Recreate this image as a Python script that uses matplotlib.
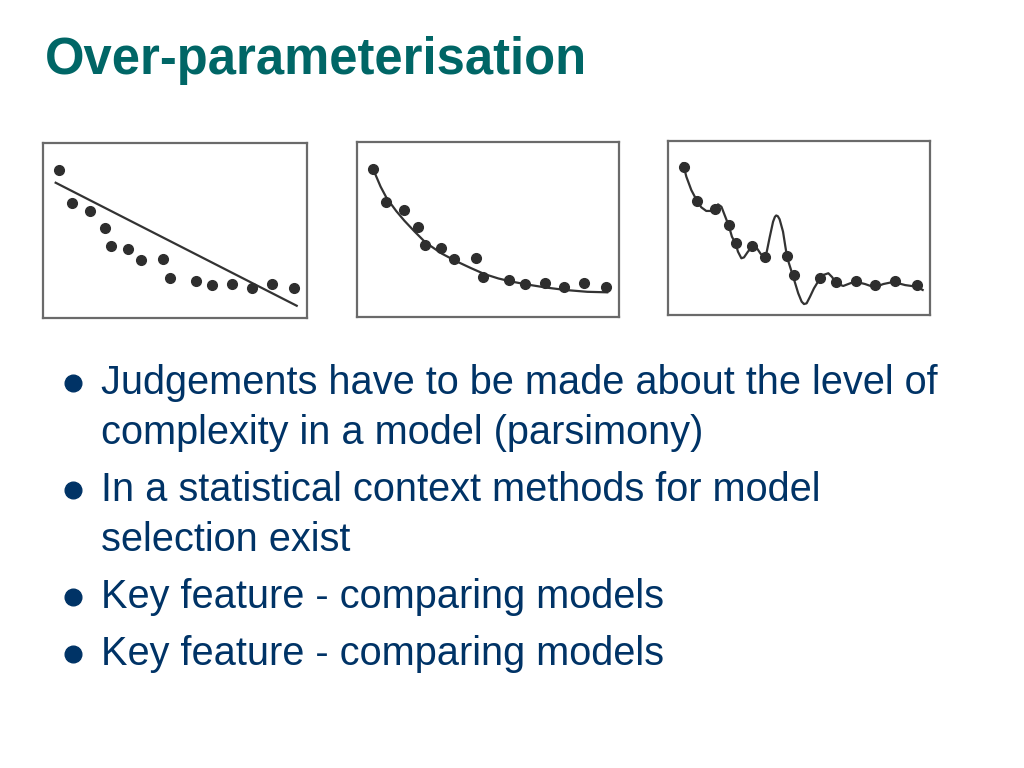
import matplotlib
matplotlib.use("Agg")
import matplotlib.pyplot as plt

# observed data (same points in all three panels)
x_pts = [0.62, 1.11, 1.78, 2.34, 2.58, 3.22, 3.71, 4.56, 4.81, 5.80, 6.42, 7.16, 7.91, 8.66, 9.52]
y_pts = [8.48, 6.58, 6.11, 5.17, 4.14, 3.96, 3.34, 3.38, 2.30, 2.11, 1.88, 1.94, 1.71, 1.94, 1.71]

# panel 1: straight line model
x_line = [0.48, 9.61]
y_line = [7.73, 0.70]

# panel 2: smooth curve model
x_curve = [0.63, 0.90, 1.13, 1.50, 1.81, 2.20, 2.62, 3.24, 3.77, 4.34, 4.87,
           5.40, 5.88, 6.48, 7.23, 7.98, 8.79, 9.55]
y_curve = [8.40, 7.45, 6.80, 6.05, 5.50, 4.88, 4.25, 3.62, 3.20, 2.80, 2.45,
           2.20, 2.03, 1.86, 1.68, 1.54, 1.44, 1.41]

# panel 3: over-fitted wiggly model
x_wig = [0.57, 0.70, 0.89, 1.11, 1.27, 1.46, 1.65, 1.78, 1.91, 2.04, 2.16, 2.32,
         2.44, 2.58, 2.67, 2.80, 2.90, 3.05, 3.24, 3.37, 3.54, 3.69, 3.77, 3.88,
         4.01, 4.08, 4.13, 4.19, 4.26, 4.39, 4.48, 4.55, 4.77, 4.97, 5.10, 5.19,
         5.29, 5.42, 5.57, 5.78, 5.93, 6.12, 6.27, 6.40, 6.69, 6.95, 7.14, 7.52,
         7.88, 8.22, 8.60, 9.05, 9.47, 9.72]
y_wig = [8.72, 7.95, 7.18, 6.55, 6.19, 5.98, 5.98, 6.07, 6.36, 6.22, 5.75, 5.13,
         4.50, 4.12, 3.64, 3.26, 3.31, 3.64, 3.97, 3.89, 3.51, 3.31, 3.64, 4.46,
         5.36, 5.64, 5.72, 5.68, 5.50, 4.79, 3.93, 3.29, 2.24, 1.25, 0.77, 0.63,
         0.67, 1.05, 1.53, 2.05, 2.30, 2.40, 2.17, 1.82, 1.67, 1.82, 1.92, 1.78,
         1.59, 1.78, 1.90, 1.72, 1.63, 1.44]

title = "Over-parameterisation"
bullets = [
    "Judgements have to be made about the level of\ncomplexity in a model (parsimony)",
    "In a statistical context methods for model\nselection exist",
    "Key feature - comparing models",
    "Key feature - comparing models",
]

plt.rcParams['font.family'] = ['Liberation Sans', 'DejaVu Sans']

fig = plt.figure(figsize=(10.24, 7.68), dpi=100)
W, H = 1024, 768

# panel boxes in pixels: left, top, right, bottom
boxes = [(43, 143, 307, 318), (357, 142, 619, 317), (668, 141, 930, 315)]
models = [(x_line, y_line), (x_curve, y_curve), (x_wig, y_wig)]

for (l, t, r, b), (mx, my) in zip(boxes, models):
    ax = fig.add_axes([l / W, 1 - b / H, (r - l) / W, (b - t) / H])
    ax.plot(mx, my, color='#333333', lw=1.6, zorder=2)
    ax.plot(x_pts, y_pts, 'o', color='#2e2e2e', ms=7, zorder=3)
    ax.set_xlim(0, 10)
    ax.set_ylim(0, 10)
    ax.set_xticks([])
    ax.set_yticks([])
    for s in ax.spines.values():
        s.set_color('#6a6a6a')
        s.set_linewidth(1.6)

# text layer in pixel coordinates
tx = fig.add_axes([0, 0, 1, 1])
tx.set_xlim(0, W)
tx.set_ylim(H, 0)
tx.axis('off')
tx.patch.set_alpha(0)

tx.text(45, 74, title, fontsize=36.5, fontweight='bold', color='#006666',
        va='baseline', ha='left')

baseline = 394
for item in bullets:
    lines = item.split("\n")
    tx.plot([73], [baseline - 11], 'o', color='#003366', ms=12)
    for i, line in enumerate(lines):
        tx.text(101, baseline, line, fontsize=28.6, color='#003366',
                va='baseline', ha='left')
        if i < len(lines) - 1:
            baseline += 50
    baseline += 57

fig.savefig("out.png", dpi=100)
